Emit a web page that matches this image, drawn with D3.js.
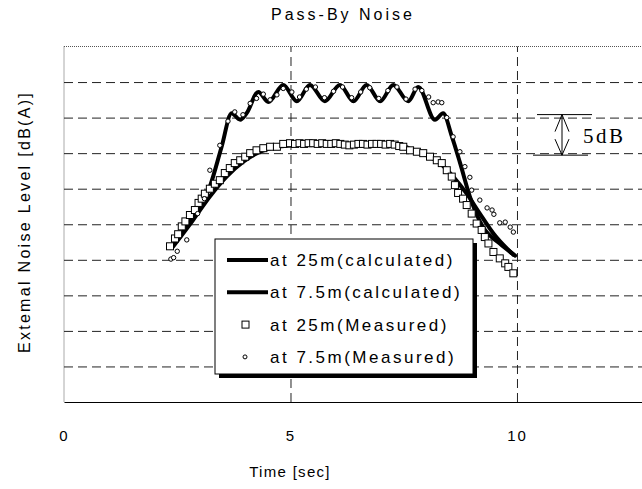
<!DOCTYPE html>
<html>
<head>
<meta charset="utf-8">
<script src="https://cdn.jsdelivr.net/npm/d3@7"></script>
<style>
  body { margin: 0; background: #fff; }
  svg { display: block; }
  text { font-family: "Liberation Sans", Arial, sans-serif; fill: #000; }
  .grid line { stroke: #222; stroke-width: 1; stroke-dasharray: 9,5; }
</style>
</head>
<body>
<svg id="chart" width="642" height="489"></svg>
<script>
// calculated curves (time [s], level [dB(A)])
const calcTime7 = [2.38, 2.85, 3.22, 3.48, 3.70, 3.89, 4.03, 4.29, 4.51, 4.84, 5.14, 5.43, 5.76, 6.09, 6.39, 6.68, 6.98, 7.27, 7.60, 7.82, 8.19, 8.37, 8.56, 8.74, 8.96, 9.25, 9.62, 9.96];
const calcLevel7 = [61.8, 66.1, 70.3, 75.9, 80.6, 79.7, 80.6, 83.6, 82.2, 84.6, 82.3, 84.6, 82.3, 84.6, 82.3, 84.6, 82.3, 84.6, 82.3, 84.3, 79.7, 80.6, 77.4, 73.7, 68.9, 64.6, 62.3, 60.6];

const calcTime25 = [2.40, 2.85, 3.22, 3.59, 3.96, 4.33, 4.70, 5.06, 5.43, 6.35, 7.42, 7.71, 8.00, 8.30, 8.59, 8.89, 9.18, 9.48, 9.92];
const calcLevel25 = [61.8, 65.6, 68.9, 71.7, 73.8, 75.2, 75.9, 76.1, 76.3, 76.1, 76.1, 75.4, 74.7, 73.6, 71.7, 69.3, 66.5, 63.7, 60.7];

// measured points
const measTime25 = [2.34, 2.45, 2.52, 2.60, 2.68, 2.78, 2.89, 2.97, 3.04, 3.11, 3.22, 3.33, 3.44, 3.55, 3.66, 3.77, 3.89, 4.00, 4.11, 4.25, 4.40, 4.55, 4.70, 4.84, 4.99, 5.10, 5.20, 5.30, 5.40, 5.50, 5.60, 5.70, 5.80, 5.90, 6.00, 6.10, 6.20, 6.30, 6.40, 6.50, 6.60, 6.70, 6.80, 6.90, 7.00, 7.10, 7.20, 7.30, 7.40, 7.49, 7.64, 7.79, 7.93, 8.08, 8.23, 8.34, 8.45, 8.56, 8.63, 8.70, 8.81, 8.89, 9.00, 9.11, 9.22, 9.29, 9.37, 9.48, 9.62, 9.74, 9.81, 9.92];
const measLevel25 = [61.9, 63.0, 63.6, 64.7, 65.4, 66.3, 67.0, 68.0, 68.6, 69.3, 70.0, 70.7, 71.2, 72.2, 72.9, 73.6, 74.0, 74.5, 75.0, 75.4, 75.7, 75.9, 75.9, 76.3, 76.4, 76.3, 76.4, 76.3, 76.4, 76.4, 76.3, 76.4, 76.3, 76.3, 76.4, 76.3, 76.2, 76.1, 76.2, 76.3, 76.3, 76.2, 76.3, 76.3, 76.3, 76.2, 76.3, 76.2, 76.0, 75.9, 75.4, 75.2, 75.0, 74.5, 74.0, 73.6, 72.6, 71.7, 70.5, 69.4, 68.6, 67.7, 66.5, 65.1, 64.2, 63.2, 62.3, 61.1, 60.2, 59.5, 59.0, 58.1];

const measTime7 = [2.36, 2.42, 2.50, 2.71, 2.95, 3.10, 3.22, 3.44, 3.62, 3.77, 3.95, 4.11, 4.25, 4.40, 4.55, 4.70, 4.84, 5.03, 5.20, 5.35, 5.55, 5.75, 5.95, 6.15, 6.35, 6.55, 6.75, 6.95, 7.15, 7.35, 7.55, 7.75, 7.90, 8.05, 8.15, 8.26, 8.34, 8.45, 8.59, 8.74, 8.85, 8.96, 9.00, 9.18, 9.34, 9.45, 9.49, 9.62, 9.74, 9.85, 9.92];
const measLevel7 = [60.1, 60.3, 61.2, 62.8, 66.5, 68.6, 72.6, 76.1, 79.5, 80.8, 80.4, 82.0, 82.7, 83.3, 82.5, 83.2, 84.1, 83.6, 82.9, 84.0, 84.3, 82.8, 83.7, 84.3, 82.8, 83.6, 84.2, 82.7, 83.8, 84.3, 82.6, 84.0, 83.8, 82.9, 82.1, 82.2, 82.1, 80.0, 77.3, 75.2, 73.1, 71.6, 69.8, 68.4, 67.3, 67.0, 66.4, 65.2, 65.3, 64.6, 63.9];

const xTicks = [0, 5, 10];
const gridLevels = [45, 50, 55, 60, 65, 70, 75, 80, 85];
const legendLabels = ["at 25m(calculated)", "at 7.5m(calculated)", "at 25m(Measured)", "at 7.5m(Measured)"];

const svg = d3.select('#chart');
const plotLeft = 64, plotRight = 642, plotTop = 46.5, plotBottom = 402;

const x = d3.scaleLinear().domain([0, 12.76]).range([plotLeft, plotRight]);
const y = d3.scaleLinear().domain([40, 90]).range([plotBottom, plotTop]);

// dotted frame (left and top)
svg.append('line')
  .attr('x1', plotLeft).attr('x2', plotLeft).attr('y1', plotTop).attr('y2', plotBottom)
  .attr('stroke', '#555').attr('stroke-dasharray', '1,1');
svg.append('line')
  .attr('x1', plotLeft).attr('x2', plotRight).attr('y1', plotTop).attr('y2', plotTop)
  .attr('stroke', '#555').attr('stroke-dasharray', '1,1');

// horizontal dashed grid
svg.append('g')
  .attr('class', 'grid')
  .attr('transform', `translate(${plotLeft},0)`)
  .call(d3.axisLeft(y).tickValues(gridLevels).tickSize(-(plotRight - plotLeft)).tickFormat(''))
  .call(g => g.select('.domain').remove());

// vertical dashed grid at 5 and 10
svg.append('g')
  .attr('class', 'grid')
  .attr('transform', `translate(0,${plotBottom})`)
  .call(d3.axisBottom(x).tickValues([5, 10]).tickSize(-(plotBottom - plotTop)).tickFormat(''))
  .call(g => g.select('.domain').remove());

// bottom axis with labels
const xAxis = svg.append('g')
  .attr('transform', `translate(0,${plotBottom})`)
  .call(d3.axisBottom(x).tickValues(xTicks).tickSize(0).tickSizeOuter(0).tickPadding(28).tickFormat(d3.format('d')));
xAxis.select('.domain').attr('stroke', '#000').attr('stroke-width', 1.2);
xAxis.selectAll('text')
  .style('font-family', '"Liberation Sans", Arial, sans-serif')
  .style('font-size', '15px')
  .style('letter-spacing', '2px')
  .attr('fill', '#000');

// curves
const line = d3.line()
  .x(d => x(d[0]))
  .y(d => y(d[1]))
  .curve(d3.curveMonotoneX);

svg.append('path')
  .datum(d3.zip(calcTime25, calcLevel25))
  .attr('d', line)
  .attr('fill', 'none').attr('stroke', '#000').attr('stroke-width', 4)
  .attr('stroke-linejoin', 'round').attr('stroke-linecap', 'round');

svg.append('path')
  .datum(d3.zip(calcTime7, calcLevel7))
  .attr('d', line)
  .attr('fill', 'none').attr('stroke', '#000').attr('stroke-width', 4)
  .attr('stroke-linejoin', 'round').attr('stroke-linecap', 'round');

// measured markers
svg.append('g').selectAll('rect')
  .data(d3.zip(measTime25, measLevel25))
  .enter()
  .append('rect')
  .attr('x', d => x(d[0]) - 3.5)
  .attr('y', d => y(d[1]) - 3.5)
  .attr('width', 7).attr('height', 7)
  .attr('fill', '#fff').attr('stroke', '#000').attr('stroke-width', 1);

svg.append('g').selectAll('circle')
  .data(d3.zip(measTime7, measLevel7))
  .enter()
  .append('circle')
  .attr('cx', d => x(d[0]))
  .attr('cy', d => y(d[1]))
  .attr('r', 2.2)
  .attr('fill', '#fff').attr('stroke', '#000').attr('stroke-width', 1);

// legend
const legend = svg.append('g').attr('transform', 'translate(215,239)');
legend.append('rect')
  .attr('x', 4).attr('y', 4).attr('width', 258).attr('height', 135).attr('fill', '#000');
legend.append('rect')
  .attr('x', 0).attr('y', 0).attr('width', 258).attr('height', 135)
  .attr('fill', '#fff').attr('stroke', '#000').attr('stroke-width', 1);

const rows = legend.selectAll('g.row')
  .data(legendLabels)
  .enter()
  .append('g')
  .attr('class', 'row')
  .attr('transform', (d, i) => `translate(0,${21 + i * 32.3})`);

rows.append('text')
  .attr('x', 55)
  .attr('dy', '0.35em')
  .style('font-size', '17px')
  .style('letter-spacing', '2.5px')
  .text(d => d);

rows.filter((d, i) => i < 2)
  .append('line')
  .attr('x1', 12).attr('x2', 53)
  .attr('stroke', '#000').attr('stroke-width', 4);

rows.filter((d, i) => i === 2)
  .append('rect')
  .attr('x', 27).attr('y', -3.5).attr('width', 7).attr('height', 7)
  .attr('fill', '#fff').attr('stroke', '#000');

rows.filter((d, i) => i === 3)
  .append('circle')
  .attr('cx', 30).attr('r', 2)
  .attr('fill', '#fff').attr('stroke', '#000');

// 5dB scale marker
const mark = svg.append('g').attr('stroke', '#000').attr('stroke-width', 1).attr('fill', 'none');
const m0 = y(80), m1 = y(75), mx = 562;
mark.append('line').attr('x1', 537).attr('x2', 592).attr('y1', m0 - 3).attr('y2', m0 - 3);
mark.append('line').attr('x1', 533).attr('x2', 588).attr('y1', m1 + 2).attr('y2', m1 + 2);
mark.append('line').attr('x1', mx).attr('x2', mx).attr('y1', m0 - 3).attr('y2', m1 + 2);
mark.append('path')
  .attr('d', `M${mx - 7},${m0 + 14} L${mx},${m0 - 3} L${mx + 7},${m0 + 14} M${mx - 7},${m1 - 14} L${mx},${m1 + 2} L${mx + 7},${m1 - 14}`);
svg.append('text')
  .attr('x', 583).attr('y', (m0 + m1) / 2)
  .attr('dy', '0.35em')
  .style('font-family', '"Liberation Serif", "Times New Roman", serif')
  .style('font-size', '21px')
  .style('letter-spacing', '2.5px')
  .text('5dB');

// titles
svg.append('text')
  .attr('x', 343).attr('y', 20)
  .attr('text-anchor', 'middle')
  .style('font-size', '16px')
  .style('letter-spacing', '3px')
  .text('Pass-By Noise');

svg.append('text')
  .attr('x', 290).attr('y', 477)
  .attr('text-anchor', 'middle')
  .style('font-size', '15px')
  .style('letter-spacing', '1.3px')
  .text('Time [sec]');

svg.append('text')
  .attr('transform', 'translate(30,222) rotate(-90)')
  .attr('text-anchor', 'middle')
  .style('font-size', '16px')
  .style('letter-spacing', '2.3px')
  .text('Extemal Noise Level [dB(A)]');
</script>
</body>
</html>
